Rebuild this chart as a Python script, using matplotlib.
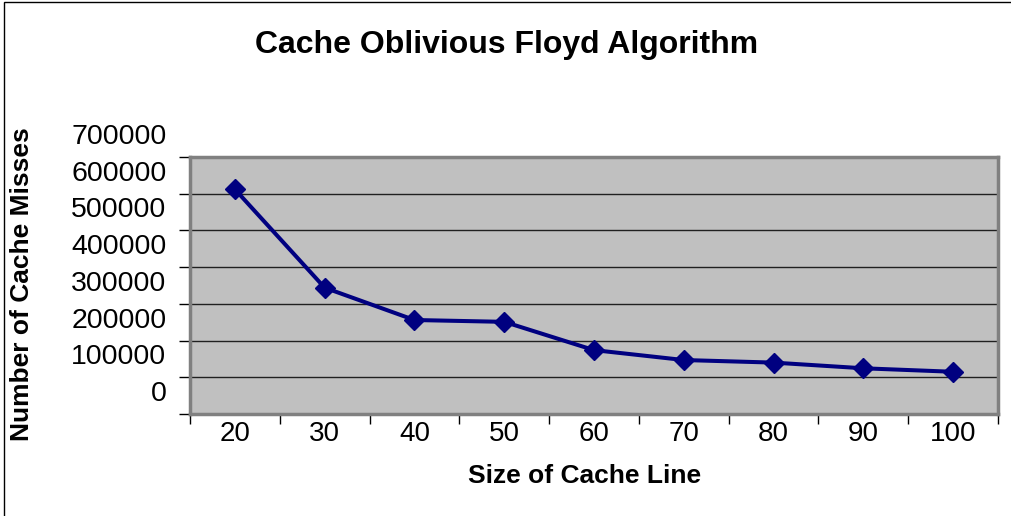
import matplotlib
matplotlib.use('Agg')
import matplotlib.pyplot as plt
import matplotlib.transforms as mtransforms
from matplotlib.patches import Rectangle

# Data
line_sizes = ['20', '30', '40', '50', '60', '70', '80', '90', '100']
cache_misses = [612000, 344000, 256000, 251000, 174000, 147000, 140000, 124500, 115000]
y_ticks = [0, 100000, 200000, 300000, 400000, 500000, 600000, 700000]

plt.rcParams['font.family'] = ['Liberation Sans', 'DejaVu Sans']

fig = plt.figure(figsize=(10.12, 5.16), dpi=100)
ax = fig.add_axes([190 / 1012, 1 - 414 / 516, 808 / 1012, 257 / 516])

# Excel-like plot area
ax.set_facecolor('#C0C0C0')
for side in ['left', 'top', 'right', 'bottom']:
    ax.spines[side].set_color('#808080')
    ax.spines[side].set_linewidth(2.5)

x = list(range(len(line_sizes)))
ax.plot(x, cache_misses, color='#000080', linewidth=2.9, marker='D', markersize=10,
        markerfacecolor='#000080', markeredgecolor='#000080', zorder=3)

ax.set_xlim(-0.5, len(line_sizes) - 0.5)
ax.set_ylim(0, 700000)

# y axis: gridlines, labels drawn a bit above their gridlines like the original
ax.set_yticks(y_ticks)
ax.set_yticklabels([str(v) for v in y_ticks], fontsize=20.5)
ax.yaxis.grid(True, color='#202020', linewidth=1)
ax.tick_params(axis='y', direction='out', length=8, width=1, color='black', pad=9)
shift = mtransforms.ScaledTranslation(0, 0.23, fig.dpi_scale_trans)
for lbl in ax.get_yticklabels():
    lbl.set_transform(lbl.get_transform() + shift)

# x axis: category labels centred, tick marks between categories
ax.set_xticks(x)
ax.set_xticklabels(line_sizes, fontsize=20)
ax.tick_params(axis='x', which='major', length=0, pad=5)
ax.set_xticks([i - 0.5 for i in range(len(line_sizes) + 1)], minor=True)
ax.tick_params(axis='x', which='minor', direction='out', length=7, width=1, color='black')

ax.set_axisbelow(True)

fig.text(507 / 1012, 1 - 45 / 516, 'Cache Oblivious Floyd Algorithm', ha='center', va='center',
         fontsize=23, fontweight='bold')
fig.text(585 / 1012, 1 - 476 / 516, 'Size of Cache Line', ha='center', va='center',
         fontsize=19, fontweight='bold')
fig.text(22 / 1012, 1 - 284 / 516, 'Number of Cache Misses', ha='center', va='center',
         rotation=90, fontsize=19, fontweight='bold')

# outer chart frame
fig.patches.append(Rectangle((4 / 1012, -0.1), 1.1, 1.1 - 2 / 516, transform=fig.transFigure,
                             fill=False, edgecolor='black', linewidth=1))

fig.savefig('out.png', dpi=100)
